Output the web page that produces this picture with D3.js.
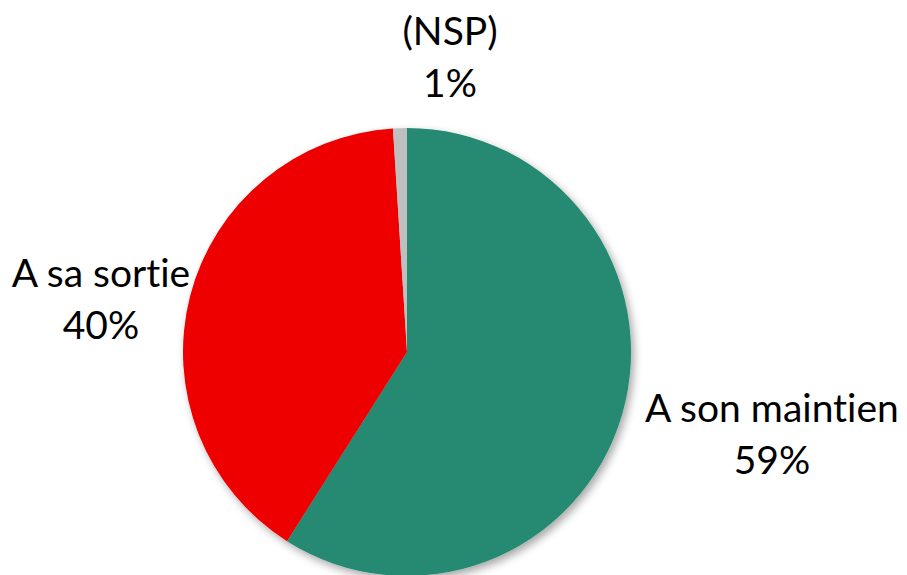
<!DOCTYPE html>
<html>
<head>
<meta charset="utf-8">
<script src="https://cdn.jsdelivr.net/npm/d3@7"></script>
<style>
  body { margin: 0; background: #fff; }
  svg { display: block; }
  text { font-variant-ligatures: none; }
</style>
</head>
<body>
<div id="chart"></div>
<script>
var categories = ["A son maintien", "A sa sortie", "(NSP)"];
var values = [59, 40, 1];
var colors = ["#268A73", "#EE0000", "#BFBFBF"];

var width = 907, height = 575;
var cx = 407, cy = 352, radius = 224;

var data = categories.map((c, i) => ({label: c, value: values[i], color: colors[i]}));

var svg = d3.select("#chart").append("svg")
    .attr("width", width)
    .attr("height", height);

var defs = svg.append("defs");
var f = defs.append("filter")
    .attr("id", "shadow")
    .attr("x", "-20%").attr("y", "-20%")
    .attr("width", "140%").attr("height", "140%");
f.append("feDropShadow")
    .attr("dx", 3).attr("dy", 4)
    .attr("stdDeviation", 4)
    .attr("flood-color", "#000")
    .attr("flood-opacity", 0.35);

var pie = d3.pie().sort(null).value(d => d.value);
var arc = d3.arc().innerRadius(0).outerRadius(radius);
var arcs = pie(data);

var g = svg.append("g").attr("transform", `translate(${cx},${cy})`);

g.append("g")
    .attr("filter", "url(#shadow)")
    .selectAll("path")
    .data(arcs)
    .join("path")
        .attr("d", arc)
        .attr("fill", d => d.data.color);

// labels: start from a point just outside the slice, then nudge like Excel does
var labelR = radius + 30;
var nudge = [[121, 13], [-60, 12], [51, -40]];

var labels = g.append("g")
    .attr("font-family", "Lato, 'Open Sans', sans-serif")
    .attr("font-size", 39)
    .attr("fill", "#000")
    .attr("text-anchor", "middle")
    .selectAll("text")
    .data(arcs)
    .join("text");

labels.append("tspan").attr("class", "l1").text(d => d.data.label);
labels.append("tspan").attr("class", "l2").text(d => d.data.value + "%");

labels.each(function(d, i) {
    var t = d3.select(this);
    var a = (d.startAngle + d.endAngle) / 2;
    var mx = labelR * Math.sin(a) + nudge[i][0];
    var my = -labelR * Math.cos(a) + nudge[i][1];
    t.select(".l1").attr("x", mx).attr("y", my - 13.5);
    t.select(".l2").attr("x", mx).attr("y", my + 38.5);
});
</script>
</body>
</html>
